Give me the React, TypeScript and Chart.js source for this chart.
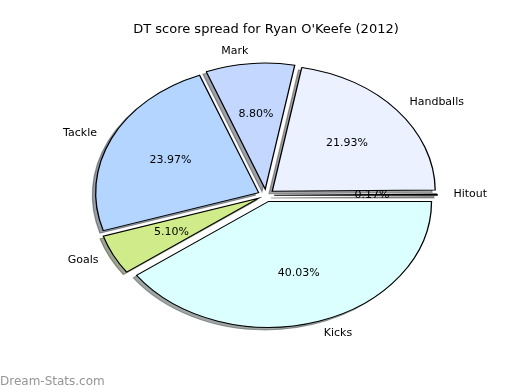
import React, { useEffect, useRef } from "react";
import { Chart, registerables } from "chart.js";

Chart.register(...registerables);

// Slices in drawing order (clockwise on screen, starting at 3 o'clock)
const categories = ["Kicks", "Goals", "Tackle", "Mark", "Handballs", "Hitout"];
const shares = [40.03, 5.1, 23.97, 8.8, 21.93, 0.17];
const sliceColors = ["#dbffff", "#d0ec8a", "#b3d5ff", "#c4d8ff", "#ebf1ff", "#e8e8e8"];
const chartTitle = "DT score spread for Ryan O'Keefe (2012)";
const watermark = "Dream-Stats.com";

const STRETCH_X = 163 / 126; // elliptical pie (axes not equal aspect)
const EXPLODE = 0.05; // fraction of radius
const SHADOW = 0.02; // fraction of radius
const LABEL_DIST = 1.1;
const PCT_DIST = 0.6;
const FONT = '"DejaVu Sans", "Liberation Sans", sans-serif';

function shadowColor(hex: string): string {
  const n = parseInt(hex.slice(1), 16);
  const r = ((n >> 16) & 255) * 0.3;
  const g = ((n >> 8) & 255) * 0.3;
  const b = (n & 255) * 0.3;
  return `rgba(${r.toFixed(0)},${g.toFixed(0)},${b.toFixed(0)},0.5)`;
}

const mplPie = {
  id: "mplPie",
  beforeDatasetsDraw(chart: any) {
    const meta = chart.getDatasetMeta(0);
    const arcs = meta.data as any[];
    if (!arcs.length) return;
    const ctx: CanvasRenderingContext2D = chart.ctx;
    const cx = arcs[0].x;
    const cy = arcs[0].y;
    ctx.save();
    ctx.translate(cx, cy);
    ctx.scale(STRETCH_X, 1);
    ctx.translate(-cx, -cy);
    // shadows first (below every wedge)
    arcs.forEach((arc, i) => {
      const { startAngle, endAngle, outerRadius } = arc;
      const mid = (startAngle + endAngle) / 2;
      const e = EXPLODE * outerRadius;
      const ox = cx + Math.cos(mid) * e - SHADOW * outerRadius;
      const oy = cy + Math.sin(mid) * e + SHADOW * outerRadius;
      ctx.beginPath();
      ctx.moveTo(ox, oy);
      ctx.arc(ox, oy, outerRadius, startAngle, endAngle);
      ctx.closePath();
      const c = shadowColor(sliceColors[i]);
      ctx.fillStyle = c;
      ctx.fill();
      ctx.strokeStyle = c;
      ctx.lineWidth = 1;
      ctx.stroke();
    });
    // exploded wedges
    arcs.forEach((arc) => {
      const { startAngle, endAngle, outerRadius } = arc;
      const mid = (startAngle + endAngle) / 2;
      const e = EXPLODE * outerRadius;
      ctx.save();
      ctx.translate(Math.cos(mid) * e, Math.sin(mid) * e);
      arc.draw(ctx);
      ctx.restore();
    });
    ctx.restore();
    return false;
  },
  afterDraw(chart: any) {
    const meta = chart.getDatasetMeta(0);
    const arcs = meta.data as any[];
    const ctx: CanvasRenderingContext2D = chart.ctx;
    const data = chart.data.datasets[0].data as number[];
    const total = data.reduce((a, b) => a + b, 0);
    ctx.save();
    ctx.fillStyle = "#000";
    ctx.font = `11px ${FONT}`;
    ctx.textBaseline = "middle";
    arcs.forEach((arc, i) => {
      const { x, y, startAngle, endAngle, outerRadius } = arc;
      const mid = (startAngle + endAngle) / 2;
      const c = Math.cos(mid);
      const s = Math.sin(mid);
      const e = EXPLODE * outerRadius;
      const lx = x + STRETCH_X * c * (e + LABEL_DIST * outerRadius);
      const ly = y + s * (e + LABEL_DIST * outerRadius);
      ctx.textAlign = c > 0 ? "left" : "right";
      ctx.fillText(chart.data.labels[i], lx, ly);
      const px = x + STRETCH_X * c * (e + PCT_DIST * outerRadius);
      const py = y + s * (e + PCT_DIST * outerRadius);
      ctx.textAlign = "center";
      ctx.fillText(((data[i] / total) * 100).toFixed(2) + "%", px, py);
    });
    ctx.font = `12px ${FONT}`;
    ctx.fillStyle = "#959595";
    ctx.textAlign = "left";
    ctx.textBaseline = "alphabetic";
    ctx.fillText(watermark, 0, 384.5);
    ctx.restore();
  },
};

export default function App() {
  const ref = useRef<HTMLCanvasElement | null>(null);
  useEffect(() => {
    document.body.style.margin = "0";
    const canvas = ref.current;
    if (!canvas) return;
    const chart = new Chart(canvas, {
      type: "pie",
      data: {
        labels: categories,
        datasets: [
          {
            data: shares,
            backgroundColor: sliceColors,
            borderColor: "#000",
            borderWidth: 1,
            borderJoinStyle: "miter",
            offset: 0,
            hoverOffset: 0,
          } as any,
        ],
      },
      options: {
        responsive: false,
        animation: false,
        events: [],
        rotation: 90,
        radius: 126,
        layout: { padding: { left: 12, right: 0, top: 0, bottom: 36.8 } },
        plugins: {
          legend: { display: false },
          tooltip: { enabled: false },
          title: {
            display: true,
            text: chartTitle,
            color: "#000",
            font: { family: FONT, size: 13, weight: "normal", lineHeight: 1.2 },
            padding: { top: 22, bottom: 0 },
          },
        },
      } as any,
      plugins: [mplPie],
    });
    return () => chart.destroy();
  }, []);
  return (
    <div style={{ position: "absolute", left: 0, top: 0, width: 520, height: 390, background: "#fff" }}>
      <canvas ref={ref} width={520} height={390} style={{ display: "block" }} />
    </div>
  );
}
